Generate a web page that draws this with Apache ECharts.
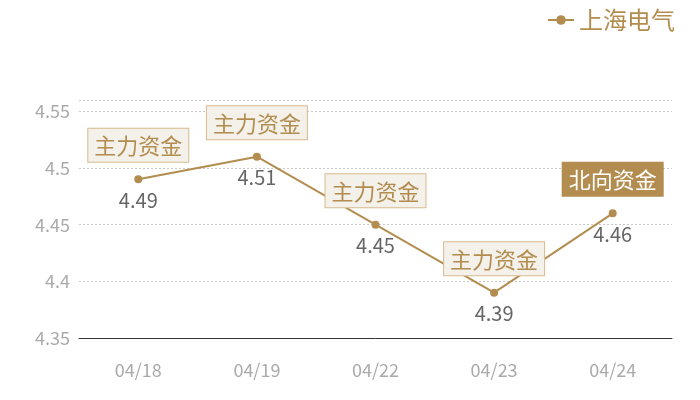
<!DOCTYPE html>
<html>
<head>
<meta charset="utf-8">
<script src="https://cdn.jsdelivr.net/npm/echarts@6/dist/echarts.min.js"></script>
<style>
html,body{margin:0;padding:0;background:#fff;}
#main{width:700px;height:400px;}
</style>
</head>
<body>
<div id="main"></div>
<script>
var categories = ['04/18', '04/19', '04/22', '04/23', '04/24'];
var prices = [4.49, 4.51, 4.45, 4.39, 4.46];
var fundTags = ['主力资金', '主力资金', '主力资金', '主力资金', '北向资金'];
var seriesName = '上海电气';

var gold = '#b38d4f';

var marks = categories.map(function (c, i) {
	var north = fundTags[i] === '北向资金';
	return {
		coord: [c, prices[i]],
		value: fundTags[i],
		label: {
			color: north ? '#fff' : gold,
			backgroundColor: north ? gold : '#f4f0ea',
			borderColor: north ? gold : '#d8bb8e',
			borderWidth: 1
		}
	};
});

var myChart = echarts.init(document.getElementById('main'));
var option = {
	textStyle: { fontFamily: '"Noto Sans CJK SC", "Noto Sans", sans-serif' },
	legend: {
		right: 20,
		top: 3,
		itemWidth: 26,
		itemHeight: 12,
		itemGap: 6,
		textStyle: { color: gold, fontSize: 24 },
		data: [seriesName]
	},
	grid: { left: 79, right: 28, top: 100, bottom: 62 },
	xAxis: {
		type: 'category',
		data: categories,
		axisLine: { lineStyle: { color: '#333' } },
		axisTick: { show: false },
		axisLabel: { color: '#aaa', fontSize: 18, margin: 23 }
	},
	yAxis: {
		type: 'value',
		min: 4.35,
		max: 4.56,
		interval: 0.05,
		axisLine: { show: false },
		axisTick: { show: false },
		axisLabel: { color: '#aaa', fontSize: 18, margin: 9, showMaxLabel: false },
		splitLine: { lineStyle: { color: '#c8c8c8', type: [2, 2] } }
	},
	series: [{
		name: seriesName,
		type: 'line',
		data: prices,
		symbol: 'circle',
		symbolSize: 8,
		itemStyle: { color: gold },
		lineStyle: { color: gold, width: 2 },
		label: {
			show: true,
			position: 'bottom',
			distance: 7,
			color: '#666',
			fontSize: 20
		},
		markPoint: {
			symbol: 'rect',
			symbolSize: 1,
			itemStyle: { color: 'rgba(0,0,0,0)' },
			label: {
				show: true,
				position: 'top',
				distance: 17,
				fontSize: 22,
				padding: [6, 6, 5, 6],
				formatter: '{c}'
			},
			data: marks
		}
	}]
};
myChart.setOption(option);
</script>
</body>
</html>
